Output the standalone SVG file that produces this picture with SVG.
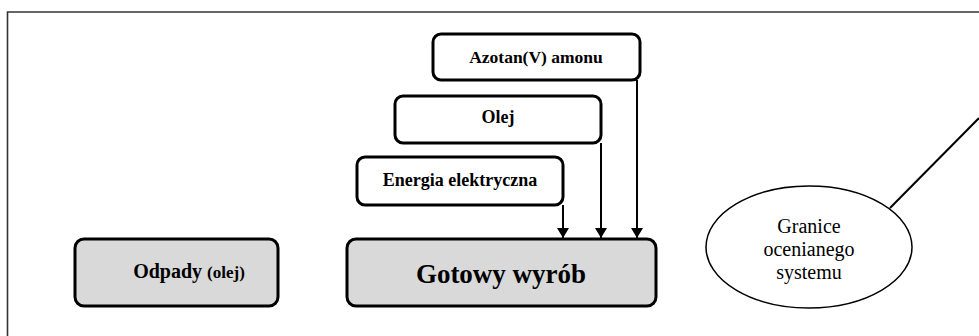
<svg xmlns="http://www.w3.org/2000/svg" width="979" height="336" viewBox="0 0 979 336">
  <style>
    .box { stroke: #000; stroke-width: 3; }
    .in { fill: #fff; }
    .out { fill: #d9d9d9; }
    .lbl { font-family: "Liberation Serif", "Times New Roman", serif; font-weight: bold; text-anchor: middle; fill: #000; }
    .note { font-family: "Liberation Serif", "Times New Roman", serif; font-size: 20px; text-anchor: middle; fill: #000; }
    .flow { stroke: #000; stroke-width: 2; fill: none; marker-end: url(#arrow); }
  </style>
  <defs>
    <marker id="arrow" viewBox="0 0 10 12" refX="10" refY="6" markerWidth="10" markerHeight="12" markerUnits="userSpaceOnUse" orient="auto">
      <path d="M0,0 L10,6 L0,12 Z" fill="#000"/>
    </marker>
  </defs>
  <rect width="979" height="336" fill="#fff"/>

  <!-- system boundary frame -->
  <path id="boundary" d="M7.5,336 L7.5,12 L979,12" fill="none" stroke="#333" stroke-width="1.6"/>

  <g id="connectors">
    <line class="flow" x1="563" y1="205" x2="563" y2="238"/>
    <line class="flow" x1="601" y1="143" x2="601" y2="238"/>
    <line class="flow" x1="637" y1="80" x2="637" y2="238"/>
    <line x1="890" y1="208" x2="979" y2="118" stroke="#000" stroke-width="2"/>
  </g>

  <g id="azotan">
    <rect class="box in" x="433" y="34" width="207" height="46" rx="8"/>
    <text class="lbl" x="536" y="63" font-size="17.5">Azotan(V) amonu</text>
  </g>
  <g id="olej">
    <rect class="box in" x="395" y="96" width="206" height="47" rx="8"/>
    <text class="lbl" x="498" y="123" font-size="18">Olej</text>
  </g>
  <g id="energia">
    <rect class="box in" x="357" y="157" width="206" height="48" rx="8"/>
    <text class="lbl" x="460" y="186" font-size="18">Energia elektryczna</text>
  </g>
  <g id="odpady">
    <rect class="box out" x="75" y="239" width="203" height="67" rx="9"/>
    <text class="lbl" x="189" y="278" font-size="20">Odpady <tspan font-size="17">(olej)</tspan></text>
  </g>
  <g id="gotowy">
    <rect class="box out" x="347" y="239" width="309" height="67" rx="9"/>
    <text class="lbl" x="501" y="283" font-size="27">Gotowy wyrób</text>
  </g>
  <g id="granice">
    <ellipse cx="809" cy="247" rx="103" ry="61" fill="#fff" stroke="#000" stroke-width="1.5"/>
    <text class="note" x="809" y="233">Granice</text>
    <text class="note" x="809" y="256">ocenianego</text>
    <text class="note" x="809" y="279">systemu</text>
  </g>
</svg>
